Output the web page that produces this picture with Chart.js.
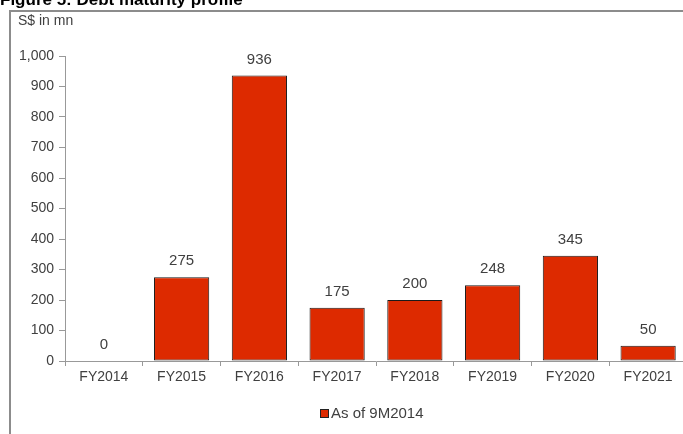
<!DOCTYPE html>
<html lang="en">
<head>
    <meta charset="UTF-8">
    <title>Debt maturity profile</title>
    <script src="https://cdn.jsdelivr.net/npm/chart.js"></script>
    <style>
        html, body { margin: 0; padding: 0; overflow: hidden; background: #fff; }
    </style>
</head>
<body>
<canvas id="myChart" width="700" height="434"></canvas>
<script>
    const years = ['FY2014', 'FY2015', 'FY2016', 'FY2017', 'FY2018', 'FY2019', 'FY2020', 'FY2021'];
    const maturity = [0, 275, 936, 175, 200, 248, 345, 50];
    const seriesName = 'As of 9M2014';
    const yTicks = [0, 100, 200, 300, 400, 500, 600, 700, 800, 900, 1000];

    const barColor = '#dd2a00';
    const textColor = '#404040';
    const fontFamily = '"Liberation Sans", Arial, sans-serif';

    // frame, title, unit label, value labels and legend
    const decorations = {
        id: 'decorations',
        afterDatasetsDraw(chart) {
            const ctx = chart.ctx;
            ctx.save();
            ctx.fillStyle = '#000';
            ctx.font = 'bold 17px ' + fontFamily;
            ctx.textBaseline = 'alphabetic';
            ctx.fillText('Figure 5: Debt maturity profile', 0, 5);

            ctx.strokeStyle = '#8c8c8c';
            ctx.lineWidth = 2;
            ctx.beginPath();
            ctx.moveTo(700, 11);
            ctx.lineTo(10, 11);
            ctx.lineTo(10, 434);
            ctx.stroke();

            ctx.fillStyle = textColor;
            ctx.font = '14px ' + fontFamily;
            ctx.fillText('S$ in mn', 18, 25);

            ctx.font = '15px ' + fontFamily;
            ctx.textAlign = 'center';
            const meta = chart.getDatasetMeta(0);
            meta.data.forEach((bar, i) => {
                ctx.fillText(String(maturity[i]), bar.x, bar.y - 12);
            });

            const lx = 320, ly = 414;
            ctx.fillStyle = barColor;
            ctx.fillRect(lx, ly - 5, 9, 9);
            ctx.strokeStyle = '#222';
            ctx.lineWidth = 1;
            ctx.strokeRect(lx + 0.5, ly - 4.5, 8, 8);
            ctx.fillStyle = textColor;
            ctx.textAlign = 'left';
            ctx.textBaseline = 'middle';
            ctx.font = '15px ' + fontFamily;
            ctx.fillText(seriesName, lx + 11, ly);
            ctx.restore();
        }
    };

    const ctx = document.getElementById('myChart').getContext('2d');
    const chart = new Chart(ctx, {
        type: 'bar',
        data: {
            labels: years,
            datasets: [{
                label: seriesName,
                data: maturity,
                backgroundColor: barColor,
                borderColor: '#1a1a1a',
                borderWidth: 1,
                borderSkipped: false,
                categoryPercentage: 0.71,
                barPercentage: 1
            }]
        },
        options: {
            responsive: false,
            animation: false,
            layout: { padding: { left: 0, right: 13, top: 56, bottom: 0 } },
            scales: {
                x: {
                    grid: { display: true, drawOnChartArea: false, offset: true, tickLength: 5, color: '#999' },
                    border: { color: '#999' },
                    ticks: { color: textColor, font: { family: fontFamily, size: 14 }, padding: 3, maxRotation: 0 },
                    afterFit(scale) { scale.height = 73; }
                },
                y: {
                    min: 0,
                    max: 1000,
                    afterBuildTicks(scale) { scale.ticks = yTicks.map(v => ({ value: v })); },
                    grid: { display: true, drawOnChartArea: false, tickLength: 6, color: '#999' },
                    border: { color: '#999' },
                    ticks: {
                        color: textColor,
                        font: { family: fontFamily, size: 14 },
                        padding: 5,
                        callback: v => v.toLocaleString('en-US')
                    },
                    afterFit(scale) { scale.width = 65; }
                }
            },
            plugins: {
                legend: { display: false },
                tooltip: { enabled: false }
            }
        },
        plugins: [decorations]
    });
</script>
</body>
</html>
